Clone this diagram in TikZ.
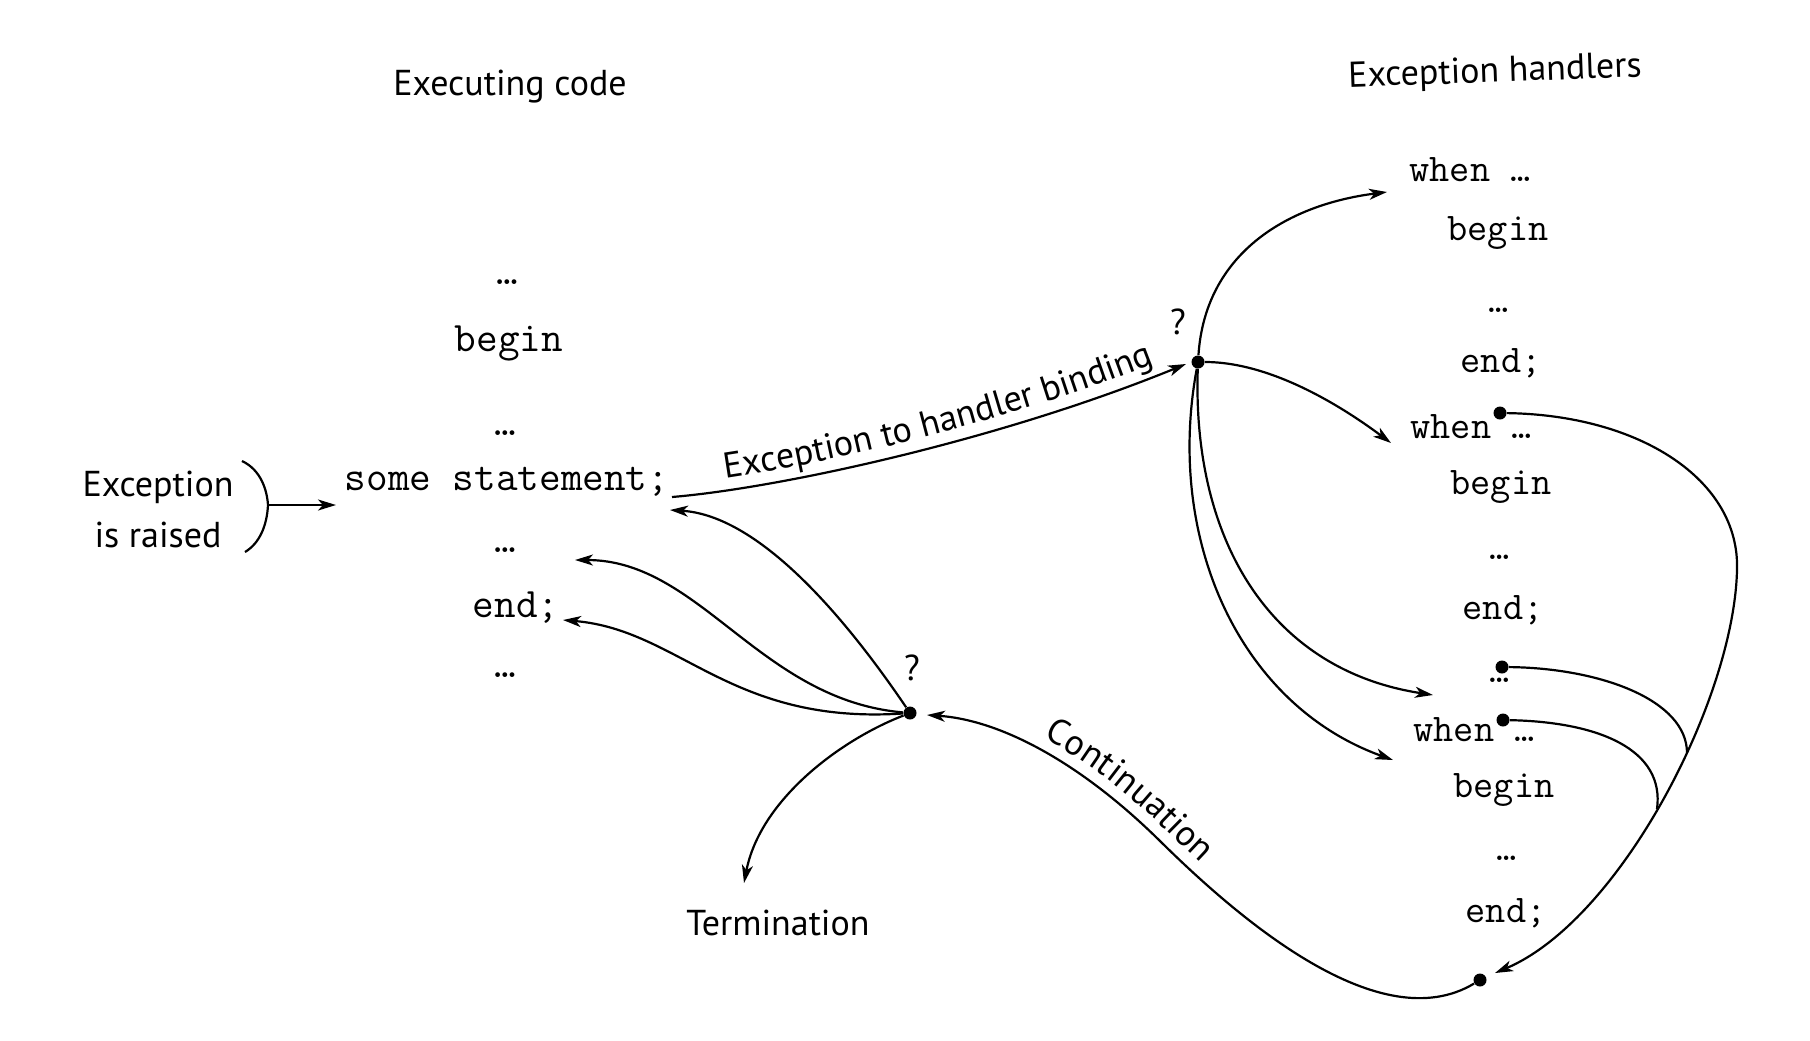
\documentclass[tikz,border=0pt]{standalone}
\usepackage{fontspec}
\setmainfont{PT Sans}
\usetikzlibrary{arrows.meta,decorations.text}
\newcommand\lblfont{\fontsize{18}{21}\selectfont}
\begin{document}
\begin{tikzpicture}[x=0.5pt,y=-0.5pt,
  lcode/.style={font=\ttfamily\fontsize{21}{23}\selectfont, inner sep=0pt},
  rcode/.style={font=\ttfamily\fontsize{19.6}{22}\selectfont, inner sep=0pt},
  lbl/.style={font=\lblfont, inner sep=0pt},
  dot/.style={circle, fill=black, inner sep=0pt, minimum size=6.5pt},
  conn/.style={line width=1.1pt, -{Stealth[length=9pt,width=5.5pt,inset=2.5pt]}},
  plainline/.style={line width=1.1pt}]
\fill[white] (0,0) rectangle (1810,1040);
\useasboundingbox (0,0) rectangle (1810,1040);

% headings and labels
\node[lbl] (exec) at (510,87) {Executing code};
\node[lbl, rotate=2] (handlers) at (1495,73) {Exception handlers};
\node[lbl] (exc) at (158,487) {Exception};
\node[lbl] (raised) at (158,535) {is raised};
\node[lbl] (term) at (778,923) {Termination};
\node[lbl] (q1) at (1178,322) {?};
\node[lbl] (q2) at (912,668) {?};

% executing code
\node[lcode] (L1) at (507,282) {…};
\node[lcode] (Lbegin) at (509,343) {begin};
\node[lcode] (L2) at (505,433) {…};
\node[lcode] (Lstmt) at (507,482) {some statement;};
\node[lcode] (L3) at (505,550) {…};
\node[lcode] (Lend) at (516,608) {end;};
\node[lcode] (L4) at (505,675) {…};

% handlers
\node[rcode] (R1) at (1470,170) {when …};
\node[rcode] (Rb1) at (1498,233) {begin};
\node[rcode] (Rd1) at (1499,310) {…};
\node[rcode] (Re1) at (1501,363) {end;};
\node[rcode] (R2) at (1471,427) {when …};
\node[rcode] (Rb2) at (1501,487) {begin};
\node[rcode] (Rd2) at (1500,557) {…};
\node[rcode] (Re2) at (1503,610) {end;};
\node[rcode] (Rd3) at (1500,680) {…};
\node[rcode] (R3) at (1474,730) {when …};
\node[rcode] (Rb3) at (1504,790) {begin};
\node[rcode] (Rd4) at (1507,858) {…};
\node[rcode] (Re3) at (1506,913) {end;};

% dots
\node[dot] (Dup) at (1198,362) {};
\node[dot] (Dlow) at (910,713) {};
\node[dot] (D2) at (1500,413) {};
\node[dot] (Dd) at (1502,667) {};
\node[dot] (D3) at (1503,720) {};
\node[dot] (Dbot) at (1480,980) {};

% free ends
\coordinate (braceM) at (268,505);
\coordinate (T0) at (336,505);
\coordinate (S1) at (672,497);
\coordinate (T1) at (1186,364);
\coordinate (T2) at (1387,192);
\coordinate (T3) at (1391,443);
\coordinate (T4) at (1433,695);
\coordinate (T5) at (1393,760);
\coordinate (T6) at (670,510);
\coordinate (T7) at (575,560);
\coordinate (T8) at (563,620);
\coordinate (T9) at (744,883);
\coordinate (T10) at (927,715);
\coordinate (T11) at (1495,973);
\coordinate (Mc) at (1160,841);
\coordinate (Br) at (1737,570);
\coordinate (J1) at (1687,753);
\coordinate (J2) at (1657,809);

% brace
\draw[plainline] (242,461) .. controls (261,470) and (267,490) .. (braceM)
  .. controls (267,525) and (260,543) .. (245,552);
\draw[conn] (braceM) -- (T0);

% binding
\draw[conn] (S1) .. controls (780,488) and (1000,440) .. (T1);
\path[decorate, decoration={text along path, text={|\lblfont|Exception to handler binding},
  raise=6pt, text align={left indent=28pt}}]
  (S1) .. controls (780,488) and (1000,440) .. (T1);

% handler selection
\draw[conn] (Dup) .. controls (1205,255) and (1285,205) .. (T2);
\draw[conn] (Dup) .. controls (1270,362) and (1340,405) .. (T3);
\draw[conn] (Dup) .. controls (1192,540) and (1270,670) .. (T4);
\draw[conn] (Dup) .. controls (1165,540) and (1240,705) .. (T5);

% back to executing code
\draw[conn] (Dlow) .. controls (830,595) and (750,515) .. (T6);
\draw[conn] (Dlow) .. controls (760,700) and (700,560) .. (T7);
\draw[conn] (Dlow) .. controls (730,725) and (680,630) .. (T8);
\draw[conn] (Dlow) .. controls (840,740) and (760,800) .. (T9);

% continuation
\draw[conn] (Dbot) .. controls (1380,1040) and (1240,920) .. (Mc)
  .. controls (1080,762) and (1000,720) .. (T10);
\path[decorate, decoration={text along path, text={|\lblfont|Continuation},
  raise=6pt, text align={left indent=58pt}}]
  (T10) .. controls (1000,720) and (1080,762) .. (Mc)
  .. controls (1240,920) and (1380,1040) .. (Dbot);

% handler returns
\draw[conn] (D2) .. controls (1640,415) and (1740,480) .. (Br)
  .. controls (1734,700) and (1620,920) .. (T11);
\draw[plainline] (Dd) .. controls (1600,668) and (1687,700) .. (J1);
\draw[plainline] (D3) .. controls (1600,722) and (1665,750) .. (J2);
\end{tikzpicture}
\end{document}
